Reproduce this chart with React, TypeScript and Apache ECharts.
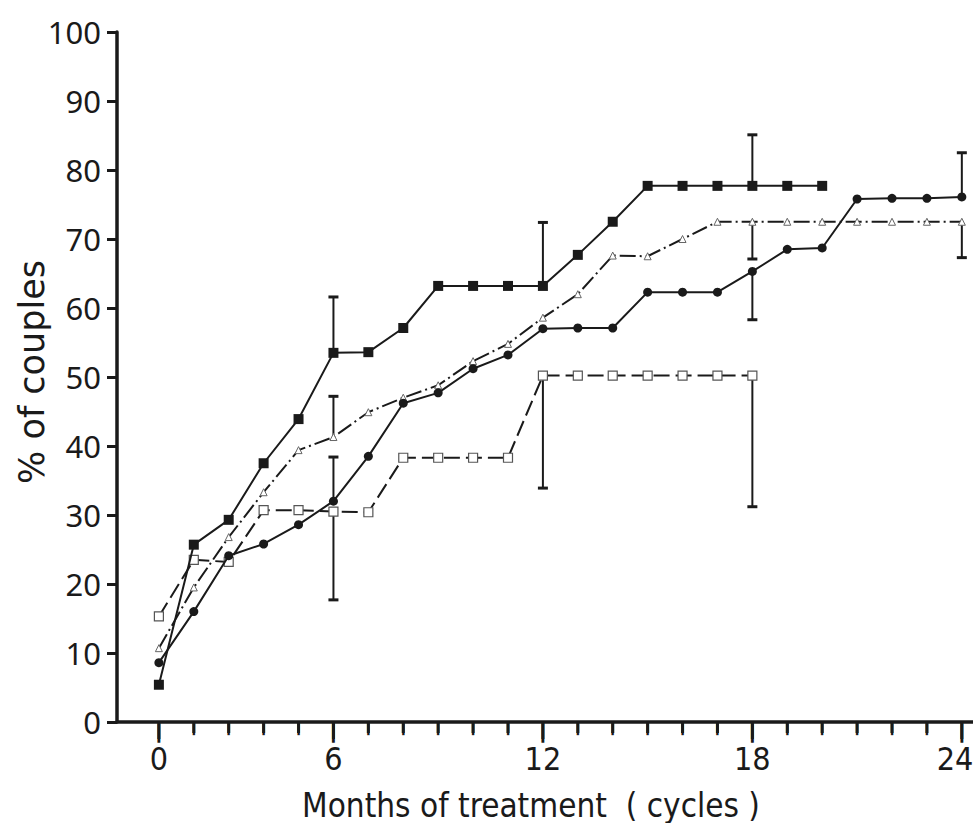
import { useEffect, useRef } from "react";
import * as echarts from "echarts";

// Tick positions along the cycle axis; labelled every sixth month.
const tickPositions = [0, 1, 2, 3, 4, 5, 6, 7, 8, 9, 10, 11, 12, 13, 14, 15, 16, 17, 18, 19, 20, 21, 22, 23];
const labelPositions = [0, 5, 11, 17, 23];
const tickLabels = ["0", "6", "12", "18", "24"];

// Cumulative % of couples, one value per cycle position.
const filledSquares = [5.4, 25.7, 29.3, 37.5, 43.9, 53.5, 53.6, 57.1, 63.2, 63.2, 63.2, 63.2, 67.7, 72.5, 77.7, 77.7, 77.7, 77.7, 77.7, 77.7];
const filledCircles = [8.6, 16.0, 24.1, 25.8, 28.6, 32.0, 38.5, 46.2, 47.7, 51.2, 53.2, 57.0, 57.1, 57.1, 62.3, 62.3, 62.3, 65.3, 68.5, 68.7, 75.8, 75.9, 75.9, 76.1];
const openTriangles = [10.7, 19.5, 26.8, 33.3, 39.4, 41.3, 44.9, 47.0, 48.8, 52.3, 54.8, 58.6, 62.0, 67.6, 67.5, 70.0, 72.5, 72.5, 72.5, 72.5, 72.5, 72.5, 72.5, 72.5];
const openSquares = [15.3, 23.5, 23.2, 30.7, 30.7, 30.5, 30.4, 38.3, 38.3, 38.3, 38.3, 50.2, 50.2, 50.2, 50.2, 50.2, 50.2, 50.2];

// Error bars: [position, from, to]
const filledSquareErrors = [[5, 53.5, 61.6], [11, 63.2, 72.4], [17, 77.7, 85.1]];
const filledCircleErrors = [[5, 32.0, 38.4], [17, 65.3, 58.3], [23, 76.1, 82.5]];
const openTriangleErrors = [[5, 41.3, 47.2], [17, 72.5, 67.1], [23, 72.5, 67.3]];
const openSquareErrors = [[5, 30.5, 17.7], [11, 50.2, 33.9], [17, 50.2, 31.2]];

const INK = "#1a1a1a";
const NUM_FONT = "'Noto Sans', 'DejaVu Sans', sans-serif";
const TITLE_FONT = "'DejaVu Sans', 'Noto Sans', sans-serif";
const NARROW_FONT = "'Liberation Sans Narrow', 'DejaVu Sans Condensed', 'Roboto', sans-serif";

const X_MIN = -1.2;
const X_MAX = 23.32;

const toPoints = (values: number[]) => values.map((v, i) => [tickPositions[i], v]);
const isLabelled = (p: number) => labelPositions.indexOf(p) >= 0;

const errorBars = (data: number[][]) => ({
  type: "custom",
  data,
  z: 1,
  silent: true,
  encode: { x: 0, y: [1, 2] },
  renderItem: (_params: any, api: any) => {
    const x = api.value(0);
    const a = api.coord([x, api.value(1)]);
    const b = api.coord([x, api.value(2)]);
    const cap = 5;
    return {
      type: "group",
      children: [
        { type: "line", shape: { x1: a[0], y1: a[1], x2: b[0], y2: b[1] }, style: { stroke: INK, lineWidth: 2 } },
        { type: "line", shape: { x1: b[0] - cap, y1: b[1], x2: b[0] + cap, y2: b[1] }, style: { stroke: INK, lineWidth: 3 } },
      ],
    };
  },
});

const titles = [
  {
    type: "text",
    x: 531,
    y: 805,
    silent: true,
    style: {
      text: "Months of treatment  ( cycles )",
      font: `33px ${NARROW_FONT}`,
      fill: INK,
      textAlign: "center",
      textVerticalAlign: "middle",
    },
  },
  {
    type: "text",
    x: 32,
    y: 372,
    rotation: Math.PI / 2,
    silent: true,
    style: {
      text: "% of couples",
      font: `35px ${TITLE_FONT}`,
      fill: INK,
      textAlign: "center",
      textVerticalAlign: "middle",
    },
  },
];

export default function App() {
  const ref = useRef<HTMLDivElement>(null);

  useEffect(() => {
    if (!ref.current) return;
    const chart = echarts.init(ref.current, null, { renderer: "svg" });

    chart.setOption({
      animation: false,
      backgroundColor: "#ffffff",
      grid: { left: 117, right: 0, top: 32, bottom: 101, outerBoundsMode: "none", containLabel: false },
      xAxis: {
        type: "value",
        min: X_MIN,
        max: X_MAX,
        axisLine: { show: true, onZero: false, lineStyle: { color: INK, width: 3.5 } },
        axisTick: { show: false },
        axisLabel: { show: false },
        splitLine: { show: false },
      },
      yAxis: {
        type: "value",
        min: 0,
        max: 100,
        interval: 10,
        axisLine: { show: true, onZero: false, lineStyle: { color: INK, width: 3.5 } },
        axisTick: { show: true, length: 10, lineStyle: { color: INK, width: 3 } },
        axisLabel: { margin: 16, fontSize: 31, fontFamily: NUM_FONT, color: INK },
        splitLine: { show: false },
      },
      graphic: titles,
      series: [
        errorBars(filledSquareErrors),
        errorBars(filledCircleErrors),
        errorBars(openTriangleErrors),
        errorBars(openSquareErrors),
        {
          type: "line",
          data: toPoints(openSquares),
          symbol: "rect",
          symbolSize: 9,
          z: 2,
          lineStyle: { color: INK, width: 2, type: [16, 6] },
          itemStyle: { color: "#ffffff", borderColor: "#555", borderWidth: 1.2 },
        },
        {
          type: "line",
          data: toPoints(openTriangles),
          symbol: "triangle",
          symbolSize: 7,
          z: 3,
          lineStyle: { color: INK, width: 2, type: [16, 4, 2, 4] },
          itemStyle: { color: "#ffffff", borderColor: "#666", borderWidth: 1 },
        },
        {
          type: "line",
          data: toPoints(filledCircles),
          symbol: "circle",
          symbolSize: 9,
          z: 4,
          lineStyle: { color: INK, width: 2 },
          itemStyle: { color: INK },
        },
        {
          type: "line",
          data: toPoints(filledSquares),
          symbol: "rect",
          symbolSize: 10,
          z: 5,
          lineStyle: { color: INK, width: 2 },
          itemStyle: { color: INK },
        },
      ],
    });

    // Cycle ticks hang below the time axis (a filled bar plus a stroked bar glyph),
    // and the month labels sit under the longer ones; all placed through the axis scale.
    const cycleTicks: any[] = [];
    const monthLabels: any[] = [];
    tickPositions.forEach((p) => {
      const [px, py] = chart.convertToPixel({ gridIndex: 0 }, [p, 0]) as number[];
      const long = isLabelled(p);
      const len = long ? 17 : 11;
      cycleTicks.push({
        type: "rect",
        silent: true,
        z: 100,
        x: px - 1.5,
        y: py,
        shape: { x: 0, y: 0, width: 3, height: len },
        style: { fill: INK },
      });
      cycleTicks.push({
        type: "text",
        silent: true,
        z: 100,
        x: px,
        y: py + 1,
        style: {
          text: "|",
          font: `${len}px 'DejaVu Sans', sans-serif`,
          fill: INK,
          stroke: INK,
          lineWidth: 1.4,
          textAlign: "center",
          textVerticalAlign: "top",
        },
      });
      if (long) {
        const isLast = p === labelPositions[labelPositions.length - 1];
        monthLabels.push({
          type: "text",
          silent: true,
          x: isLast ? Math.min(px, 973 - 18) : px,
          y: py + 37,
          style: {
            text: tickLabels[labelPositions.indexOf(p)],
            font: `32px ${NARROW_FONT}`,
            fill: INK,
            textAlign: "center",
            textVerticalAlign: "middle",
          },
        });
      }
    });
    chart.setOption({ graphic: [...titles, ...cycleTicks, ...monthLabels] });

    return () => chart.dispose();
  }, []);

  return (
    <div
      ref={ref}
      style={{ position: "absolute", left: 0, top: 0, width: 973, height: 823, background: "#fff" }}
    />
  );
}
